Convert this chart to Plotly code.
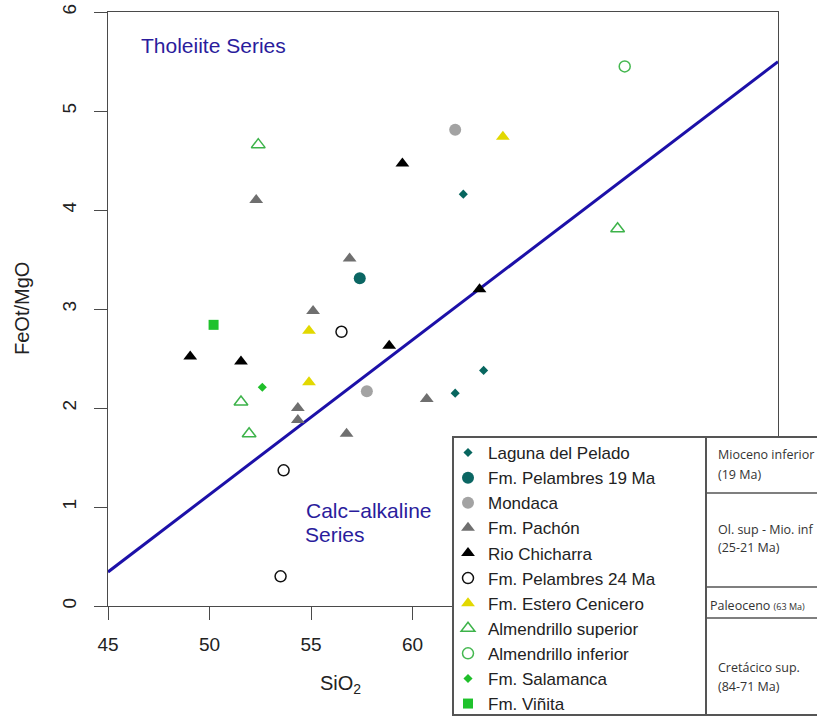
import plotly.graph_objects as go

# ---------------- data ----------------
laguna_x = [62.5, 63.5, 62.1]
laguna_y = [4.16, 2.38, 2.15]
pel19_x = [57.4]
pel19_y = [3.31]
mondaca_x = [62.1, 57.75]
mondaca_y = [4.81, 2.17]
pachon_x = [52.3, 56.9, 55.1, 54.35, 54.35, 56.75, 60.7]
pachon_y = [4.10, 3.51, 2.98, 2.00, 1.88, 1.74, 2.09]
chicharra_x = [49.05, 51.55, 59.5, 63.3, 58.85]
chicharra_y = [2.52, 2.47, 4.47, 3.20, 2.63]
pel24_x = [56.5, 53.65, 53.5]
pel24_y = [2.77, 1.37, 0.30]
estero_x = [64.45, 54.9, 54.9]
estero_y = [4.74, 2.78, 2.26]
almsup_x = [52.4, 70.1, 51.55, 51.95]
almsup_y = [4.66, 3.81, 2.06, 1.74]
alminf_x = [70.45]
alminf_y = [5.45]
salamanca_x = [52.6]
salamanca_y = [2.21]
vinita_x = [50.2]
vinita_y = [2.84]

# Tholeiite / Calc-alkaline boundary (Miyashiro 1974) end points
bound_x = [45, 78]
bound_y = [0.344, 5.499]

# ticks at 65-75 lie under the legend box in the original
x_ticks = [45, 50, 55, 60, 65, 70, 75]
x_tick_text = ["45", "50", "55", "60", "", "", ""]
y_ticks = [0, 1, 2, 3, 4, 5, 6]

table_rows = [
    ["Mioceno inferior", "(19 Ma)"],
    ["Ol. sup - Mio. inf", "(25-21 Ma)"],
    ["Paleoceno <span style='font-size:9px'>(63 Ma)</span>"],
    ["Cretácico sup.", "(84-71 Ma)"],
]

# ---------------- figure ----------------
FONT = "Liberation Sans, Arial, sans-serif"
fig = go.Figure()

fig.add_trace(go.Scatter(x=bound_x, y=bound_y, mode="lines",
                         line=dict(color="#1c10a8", width=3),
                         showlegend=False, hoverinfo="skip"))

series = [
    ("Laguna del Pelado", laguna_x, laguna_y, "diamond", "#07665f", 7, 0),
    ("Fm. Pelambres 19 Ma", pel19_x, pel19_y, "circle", "#0b6663", 12, 0),
    ("Mondaca", mondaca_x, mondaca_y, "circle", "#a3a3a3", 12, 0),
    ("Fm. Pachón", pachon_x, pachon_y, "triangle-up", "#6f6f6f", 12, 0),
    ("Rio Chicharra", chicharra_x, chicharra_y, "triangle-up", "#000000", 12, 0),
    ("Fm. Pelambres 24 Ma", pel24_x, pel24_y, "circle-open", "#111111", 11, 1.5),
    ("Fm. Estero Cenicero", estero_x, estero_y, "triangle-up", "#e2d800", 12, 0),
    ("Almendrillo superior", almsup_x, almsup_y, "triangle-up-open", "#3db34a", 12, 1.5),
    ("Almendrillo inferior", alminf_x, alminf_y, "circle-open", "#45b850", 11, 1.5),
    ("Fm. Salamanca", salamanca_x, salamanca_y, "diamond", "#1fbf2a", 7, 0),
    ("Fm. Viñita", vinita_x, vinita_y, "square", "#1fc22c", 10, 0),
]
for name, xs, ys, sym, col, size, lw in series:
    fig.add_trace(go.Scatter(
        x=xs, y=ys, mode="markers", name=name,
        marker=dict(symbol=sym, color=col, size=size,
                    line=dict(width=lw, color=col))))

def px_x(p):
    return (p - 108) / 670.0

def px_y(p):
    return (606 - p) / 594.0

shapes = []
# legend frame
shapes.append(dict(type="rect", xref="paper", yref="paper",
                   x0=px_x(453), x1=px_x(706), y0=px_y(715), y1=px_y(437),
                   fillcolor="white", line=dict(color="#555555", width=2),
                   layer="above"))
# table frame
shapes.append(dict(type="rect", xref="paper", yref="paper",
                   x0=px_x(706), x1=px_x(820), y0=px_y(715), y1=px_y(437),
                   fillcolor="white", line=dict(color="#555555", width=2),
                   layer="above"))
for yy in [493, 587, 618]:
    shapes.append(dict(type="line", xref="paper", yref="paper",
                       x0=px_x(706), x1=px_x(820), y0=px_y(yy), y1=px_y(yy),
                       line=dict(color="#555555", width=1.5), layer="above"))

annotations = []
tfont = dict(family="Open Sans, sans-serif", size=12.5, color="#333333")
row_pos = [([454, 474], 716), ([529, 547], 716), ([605], 708), ([667, 686], 716)]
for lines, (ys, xl) in zip(table_rows, row_pos):
    for txt, yy in zip(lines, ys):
        annotations.append(dict(text=txt, xref="paper", yref="paper",
                                x=px_x(xl), y=px_y(yy), xanchor="left",
                                yanchor="middle", showarrow=False, font=tfont))

blue_font = dict(family=FONT, size=21, color="#2a1c9c")
annotations.append(dict(text="Tholeiite Series", xref="paper", yref="paper",
                        x=px_x(139), y=px_y(46), xanchor="left", yanchor="middle",
                        showarrow=False, font=blue_font))
annotations.append(dict(text="Calc−alkaline", xref="paper", yref="paper",
                        x=px_x(304), y=px_y(510), xanchor="left", yanchor="middle",
                        showarrow=False, font=blue_font))
annotations.append(dict(text="Series", xref="paper", yref="paper",
                        x=px_x(303), y=px_y(534), xanchor="left", yanchor="middle",
                        showarrow=False, font=blue_font))
# axis titles
annotations.append(dict(text="FeOt/MgO", xref="paper", yref="paper",
                        x=px_x(22), y=0.5, textangle=-90, xanchor="center",
                        yanchor="middle", showarrow=False,
                        font=dict(family=FONT, size=20, color="#222222")))
annotations.append(dict(text="SiO<sub>2</sub>", xref="paper", yref="paper",
                        x=px_x(340), y=px_y(684), xanchor="center",
                        yanchor="middle", showarrow=False,
                        font=dict(family=FONT, size=20, color="#222222")))

axis_common = dict(showgrid=False, zeroline=False, showline=True, mirror=True,
                   linecolor="#4a4a4a", linewidth=1.3, ticks="outside",
                   ticklen=13, tickwidth=1.3, tickcolor="#4a4a4a",
                   automargin=False,
                   tickfont=dict(family=FONT, size=19, color="#222222"))

fig.update_layout(
    width=817, height=716,
    margin=dict(l=108, r=39, t=12, b=110, autoexpand=False),
    paper_bgcolor="white", plot_bgcolor="white",
    xaxis=dict(range=[45, 78], tickvals=x_ticks, ticktext=x_tick_text,
               ticklabelstandoff=8, **axis_common),
    yaxis=dict(range=[0, 6], tickvals=y_ticks, tickangle=-90,
               ticklabelstandoff=10, **axis_common),
    legend=dict(x=px_x(448), y=px_y(435), xanchor="left", yanchor="top",
                bgcolor="rgba(0,0,0,0)", borderwidth=0,
                font=dict(family=FONT, size=17, color="#222222"),
                tracegroupgap=0),
    shapes=shapes, annotations=annotations,
    showlegend=True,
)

fig.write_html("out.html", config={"displayModeBar": False},
               post_script="document.body.style.margin='0px';"
                           "document.body.style.overflow='hidden';")
